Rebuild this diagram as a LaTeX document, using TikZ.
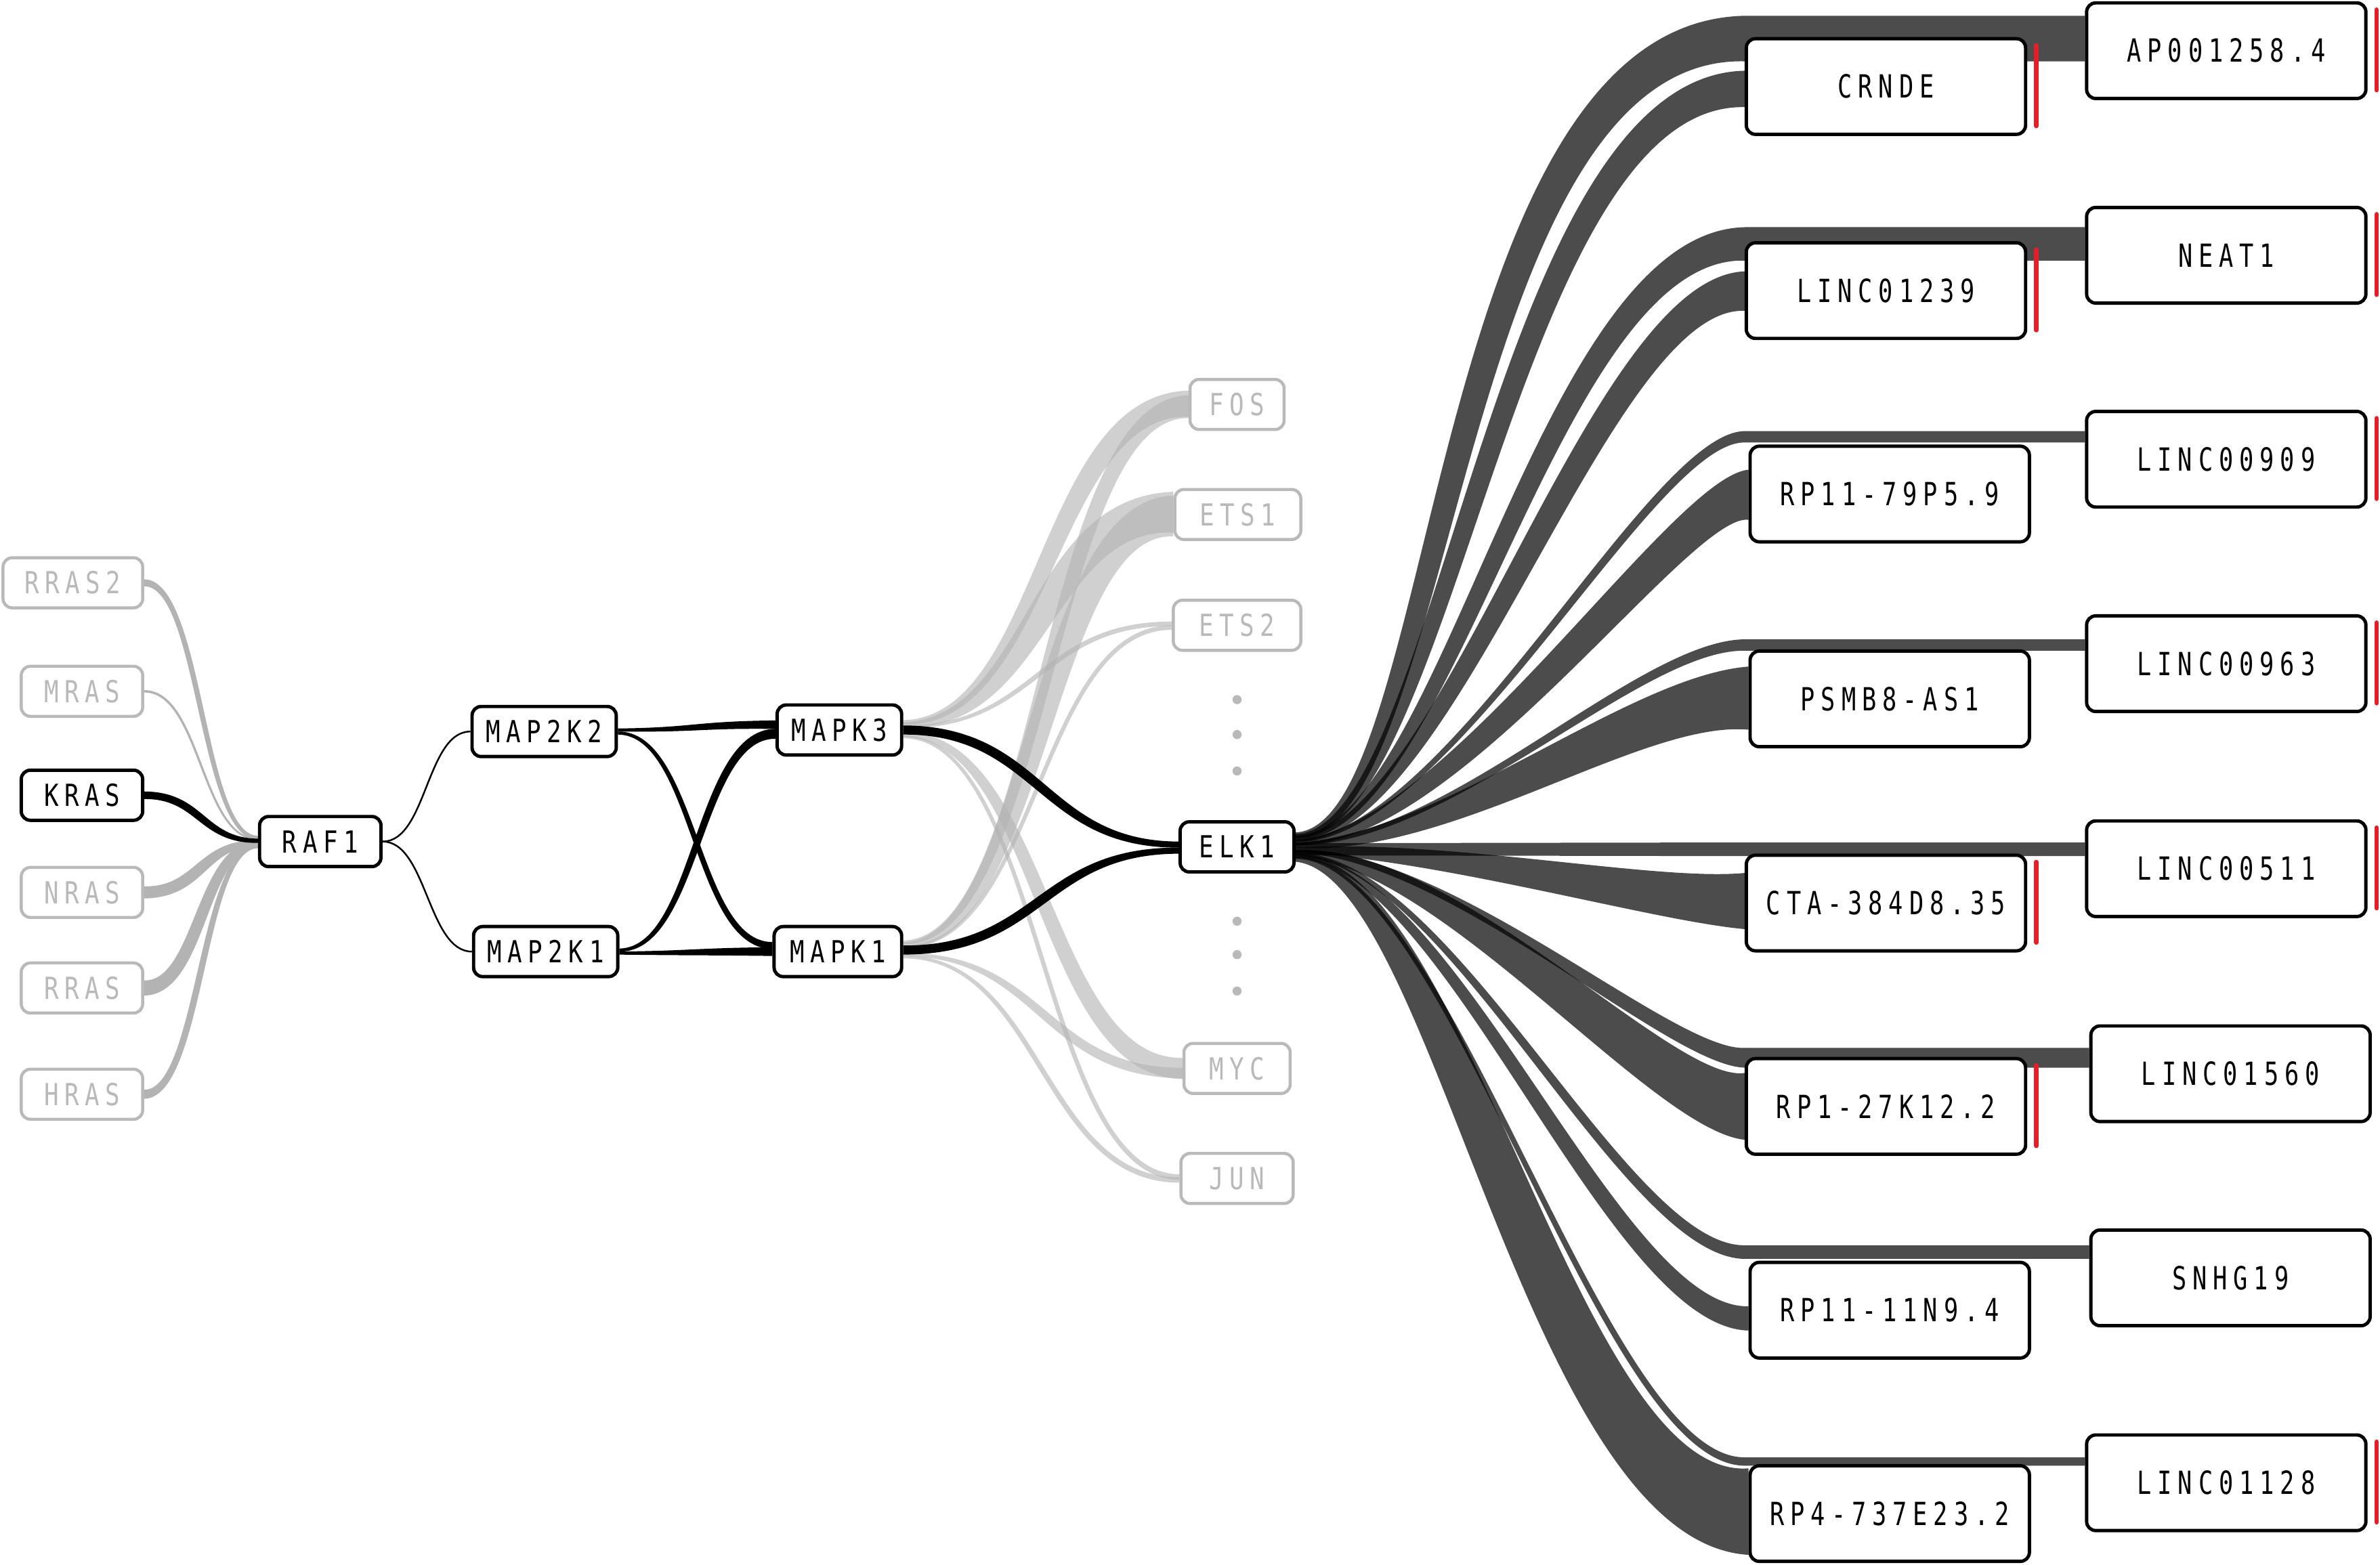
\documentclass[tikz,border=0pt]{standalone}
\usepackage{fontspec}
\newfontfamily\lab[FakeStretch=0.8,LetterSpace=19]{DejaVu Sans Mono}
\newfontfamily\labb[FakeStretch=0.75,LetterSpace=19]{DejaVu Sans Mono}
\usetikzlibrary{calc}
\definecolor{lg}{RGB}{185,185,185}
\definecolor{rg}{RGB}{179,179,179}
\definecolor{rd}{RGB}{230,30,40}
\pgfdeclarelayer{bg}
\pgfsetlayers{bg,main}
\def\sym{0.5*\n1}
% tapered ribbon, width measured across the centre line:
% [style]{source}{src offset}{src half width}{target}{tgt offset}{tgt half width}{start handle}{end handle}
\newcommand\rib[9][]{%
  \path[#1] let
    \p1=($(#2)+(0,#3)$), \p3=($(#5)+(0,#6)$),
    \n1={\x3-\x1}, \n3={#8}, \n4={#9},
    \n5={tan(0.5*atan2(\y1-\y3,\n1-\n3-\n4))},
    \n6={#4}, \n7={#7}, \n8={(2*#4+#7)/3}, \n9={(#4+2*#7)/3}
  in (\x1,\y1+\n6) .. controls (\x1+\n3+\n8*\n5,\y1+\n8) and (\x3-\n4+\n9*\n5,\y3+\n9) .. (\x3,\y3+\n7)
     -- (\x3,\y3-\n7) .. controls (\x3-\n4-\n9*\n5,\y3-\n9) and (\x1+\n3-\n8*\n5,\y1-\n8) .. (\x1,\y1-\n6) -- cycle;}
% ribbon to the far column: curve to the middle column, then straight on
\newcommand\ribx[9][]{%
  \path[#1] let
    \p1=($(#2)+(0,#3)$), \p3=($(CRNDE.west |- #5)+(0,#6)$), \p5=($(#5)+(0,#6)$),
    \n1={\x3-\x1}, \n3={#8}, \n4={#9},
    \n5={tan(0.5*atan2(\y1-\y3,\n1-\n3-\n4))},
    \n6={#4}, \n7={#7}, \n8={(2*#4+#7)/3}, \n9={(#4+2*#7)/3}
  in (\x1,\y1+\n6) .. controls (\x1+\n3+\n8*\n5,\y1+\n8) and (\x3-\n4+\n9*\n5,\y3+\n9) .. (\x3,\y3+\n7)
     -- (\x5,\y5+\n7) -- (\x5,\y5-\n7)
     -- (\x3,\y3-\n7) .. controls (\x3-\n4-\n9*\n5,\y3-\n9) and (\x1+\n3-\n8*\n5,\y1-\n8) .. (\x1,\y1-\n6) -- cycle;}
\tikzset{
  box/.style={draw, line width=2.2, rounded corners=6, fill=white, minimum height=33,
    inner sep=0, font=\lab\fontsize{20}{24}\selectfont},
  gbox/.style={box, draw=lg, line width=2, text=lg},
  big/.style={box, minimum height=63, minimum width=184, font=\labb\fontsize{21}{25}\selectfont},
  grib/.style={fill=rg},
  kb/.style={fill=black},
  mrib/.style={fill=rg, fill opacity=0.625},
  drib/.style={fill=black, fill opacity=0.7},
  rbar/.style={draw=rd, line width=3, line cap=round},
  tdot/.style={circle, fill=lg, minimum size=6, inner sep=0},
  conn/.style={draw, line width=1.1}
}
\begin{document}
\begin{tikzpicture}[x=1pt,y=-1pt]
\useasboundingbox (0,0) rectangle (1568,1031);
% left column
\node[gbox, minimum width=92] (RRAS2) at (48,384) {RRAS2};
\node[gbox, minimum width=80] (MRAS) at (54,455.5) {MRAS};
\node[box, minimum width=80] (KRAS) at (54,524) {KRAS};
\node[gbox, minimum width=80] (NRAS) at (54,588) {NRAS};
\node[gbox, minimum width=80] (RRAS) at (54,651) {RRAS};
\node[gbox, minimum width=80] (HRAS) at (54,721) {HRAS};
\node[box, minimum width=80] (RAF1) at (211,554.5) {RAF1};
\node[box, minimum width=95] (MAP2K2) at (358.5,482) {MAP2K2};
\node[box, minimum width=95] (MAP2K1) at (359.5,627) {MAP2K1};
\node[box, minimum width=82] (MAPK3) at (553,481) {MAPK3};
\node[box, minimum width=84] (MAPK1) at (552,627) {MAPK1};
% transcription factors
\node[gbox, minimum width=62] (FOS) at (815,266.5) {FOS};
\node[gbox, minimum width=83] (ETS1) at (815.5,339) {ETS1};
\node[gbox, minimum width=84] (ETS2) at (815,412) {ETS2};
\node[box, minimum width=75] (ELK1) at (815,558) {ELK1};
\node[gbox, minimum width=70] (MYC) at (815,704) {MYC};
\node[gbox, minimum width=74] (JUN) at (815,776.5) {JUN};
\node[tdot] (d1) at (815,461) {};
\node[tdot] (d2) at (815,484) {};
\node[tdot] (d3) at (815,508) {};
\node[tdot] (d4) at (815,607) {};
\node[tdot] (d5) at (815,629) {};
\node[tdot] (d6) at (815,653) {};
% middle column
\node[big] (CRNDE) at (1242.5,57) {CRNDE};
\node[big] (L1239) at (1242.5,191.5) {LINC01239};
\node[big] (RP79) at (1245,325.5) {RP11-79P5.9};
\node[big] (PSMB) at (1245,460.5) {PSMB8-AS1};
\node[big] (CTA) at (1242.5,595) {CTA-384D8.35};
\node[big] (RP27) at (1242.5,729) {RP1-27K12.2};
\node[big] (RP11N) at (1245,863.3) {RP11-11N9.4};
\node[big] (RP4) at (1245,997.3) {RP4-737E23.2};
% right column
\node[big] (AP) at (1466.7,33.4) {AP001258.4};
\node[big] (NEAT) at (1466.7,168.2) {NEAT1};
\node[big] (L909) at (1466.7,302.6) {LINC00909};
\node[big] (L963) at (1466.7,437.3) {LINC00963};
\node[big] (L511) at (1466.7,572.4) {LINC00511};
\node[big] (L1560) at (1469.5,707.5) {LINC01560};
\node[big] (SNHG) at (1469.5,842) {SNHG19};
\node[big] (L1128) at (1466.7,977) {LINC01128};
% red marks
\foreach \n in {CRNDE,L1239,CTA,RP27,AP,NEAT,L909,L963,L511,L1128}
  \draw[rbar] ($(\n.east)+(6,-27)$) -- ($(\n.east)+(6,26)$);
\begin{pgfonlayer}{bg}
% RAS -> RAF1
\rib[grib]{RRAS2.east}{0}{2.3}{RAF1.west}{-2.5}{1.3}{\sym}{\sym}
\rib[grib]{MRAS.east}{0}{0.8}{RAF1.west}{-1.5}{0.6}{\sym}{\sym}
\rib[grib]{NRAS.east}{0}{4}{RAF1.west}{1}{1.8}{\sym}{\sym}
\rib[grib]{RRAS.east}{0}{5}{RAF1.west}{2}{2.2}{\sym}{\sym}
\rib[grib]{HRAS.east}{0}{3}{RAF1.west}{3}{1.4}{\sym}{\sym}
\rib[kb]{KRAS.east}{0}{2.5}{RAF1.west}{-0.5}{1.4}{\sym}{\sym}
% RAF1 -> MAP2K
\draw[conn] (RAF1.east) .. controls +(29,0) and +(-29,0) .. (MAP2K2.west);
\draw[conn] (RAF1.east) .. controls +(29,0) and +(-29,0) .. (MAP2K1.west);
% MAP2K -> MAPK
\rib[kb]{MAP2K2.east}{-1}{1}{MAPK3.west}{-3.5}{2.8}{\sym}{\sym}
\rib[kb]{MAP2K1.east}{-1}{1}{MAPK3.west}{2.5}{3.3}{\sym}{\sym}
\rib[kb]{MAP2K2.east}{1}{1}{MAPK1.west}{-4}{2.3}{\sym}{\sym}
\rib[kb]{MAP2K1.east}{1}{1}{MAPK1.west}{0}{2.9}{\sym}{\sym}
% MAPK -> transcription factors
\rib[mrib]{MAPK3.east}{-5}{1.5}{FOS.west}{-0.5}{8.6}{\sym}{\sym}
\rib[mrib]{MAPK3.east}{-3.5}{1.5}{ETS1.west}{-1.5}{13.5}{\sym}{\sym}
\rib[mrib]{MAPK3.east}{-2}{1}{ETS2.west}{-1}{1.5}{\sym}{\sym}
\rib[mrib]{MAPK3.east}{3}{1.5}{MYC.west}{0}{7}{\sym}{\sym}
\rib[mrib]{MAPK3.east}{4.5}{1}{JUN.west}{-1}{1.8}{\sym}{\sym}
\rib[mrib]{MAPK1.east}{-6}{1.3}{FOS.west}{1.5}{7.5}{\sym}{\sym}
\rib[mrib]{MAPK1.east}{-4.5}{1.5}{ETS1.west}{1}{13.5}{\sym}{\sym}
\rib[mrib]{MAPK1.east}{-3}{1}{ETS2.west}{1.5}{1.5}{\sym}{\sym}
\rib[mrib]{MAPK1.east}{2}{1}{MYC.west}{3}{3.5}{\sym}{\sym}
\rib[mrib]{MAPK1.east}{3.5}{1}{JUN.west}{1}{1.8}{\sym}{\sym}
\rib[kb]{MAPK3.east}{0}{3}{ELK1.west}{-1.5}{2}{\sym}{\sym}
\rib[kb]{MAPK1.east}{-1}{3}{ELK1.west}{2.5}{2}{\sym}{\sym}
% ELK1 -> lncRNAs
\ribx[drib]{ELK1.east}{-8}{1.5}{AP.west}{-8}{15}{100}{200}
\rib[drib]{ELK1.east}{-7}{1.4}{CRNDE.west}{1.6}{12}{100}{160}
\ribx[drib]{ELK1.east}{-6}{1.3}{NEAT.west}{-7.5}{11}{100}{131}
\rib[drib]{ELK1.east}{-5}{1.4}{L1239.west}{0.3}{13}{100}{97}
\ribx[drib]{ELK1.east}{-4}{1}{L909.west}{-14.8}{3.75}{100}{62}
\rib[drib]{ELK1.east}{-3}{1.5}{RP79.west}{0.5}{16.5}{100}{45}
\ribx[drib]{ELK1.east}{-2}{1}{L963.west}{-12.3}{3.75}{100}{70}
\rib[drib]{ELK1.east}{-1}{1.6}{PSMB.west}{-0.5}{20.8}{100}{75}
\ribx[drib]{ELK1.east}{1.6}{4}{L511.west}{-12.8}{4.5}{100}{100}
\rib[drib]{ELK1.east}{2}{1.6}{CTA.west}{-1.3}{18.5}{100}{60}
\ribx[drib]{ELK1.east}{3}{1.1}{L1560.west}{-10.5}{6.5}{100}{50}
\rib[drib]{ELK1.east}{4}{1.7}{RP27.west}{0}{22}{100}{55}
\ribx[drib]{ELK1.east}{5}{1}{SNHG.west}{-17}{4.5}{100}{80}
\rib[drib]{ELK1.east}{6}{1.2}{RP11N.west}{5.4}{8}{100}{90}
\ribx[drib]{ELK1.east}{7}{0.9}{L1128.west}{-14}{2.75}{100}{95}
\rib[drib]{ELK1.east}{8}{1.8}{RP4.west}{-1.3}{28.5}{100}{130}
\end{pgfonlayer}
\end{tikzpicture}
\end{document}
